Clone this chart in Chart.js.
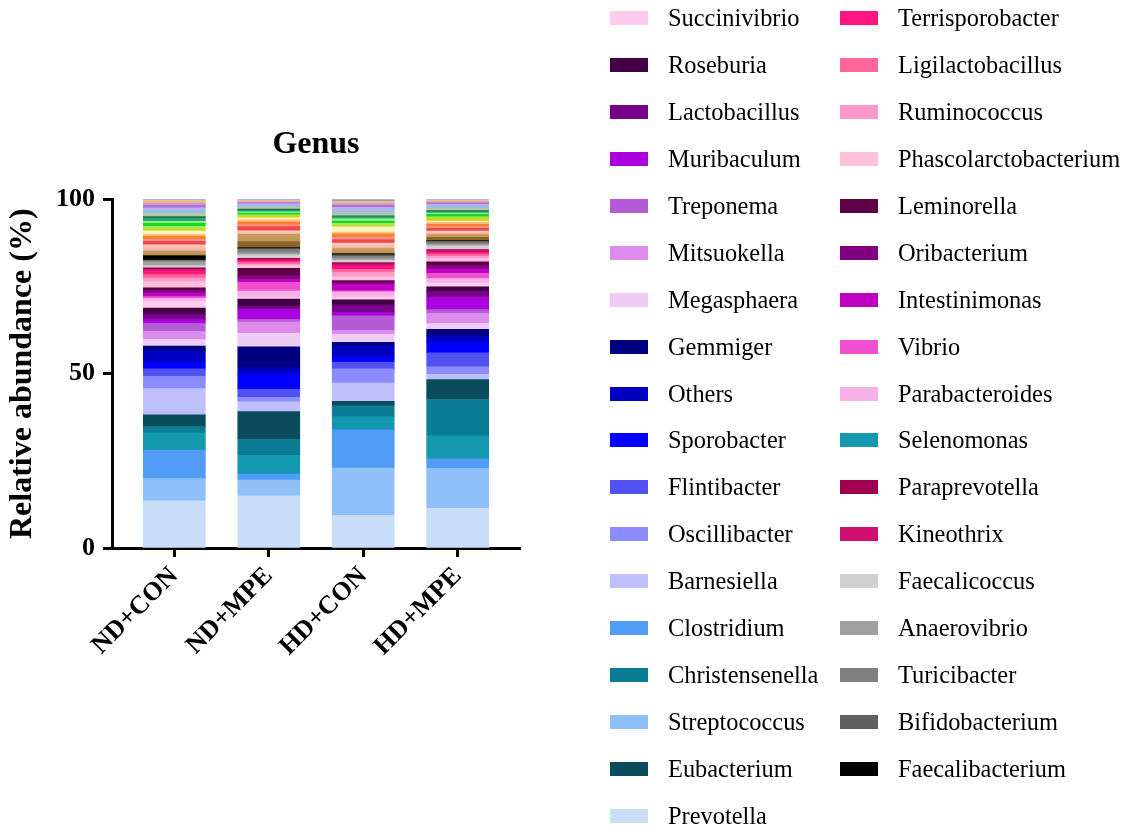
<!DOCTYPE html>
<html>
<head>
<meta charset="utf-8">
<script src="https://cdn.jsdelivr.net/npm/chart.js@4.4.1/dist/chart.umd.min.js"></script>
<style>
  html, body { margin: 0; padding: 0; background: #fff; }
  #wrap { position: relative; width: 1134px; height: 827px; overflow: hidden; }
  #plot { position: absolute; left: 0; top: 0; }
  #legend { position: absolute; left: 0; top: 0; width: 1134px; height: 827px; pointer-events: none; }
  .item { position: absolute; height: 28px; display: flex; align-items: center;
          font-family: "Liberation Serif", "Times New Roman", serif; font-size: 24.4px; color: #000; white-space: nowrap; }
  .swatch { width: 38px; height: 14px; margin-right: 20px; flex: none; }
</style>
</head>
<body>
<div id="wrap">
  <canvas id="plot" width="560" height="827"></canvas>
  <div id="legend"></div>
</div>
<script>
// Sample groups on the x axis
const groups = ['ND+CON', 'ND+MPE', 'HD+CON', 'HD+MPE'];

// Genera in stacking order, bottom to top (the last 22 are minor genera without a legend entry)
const genera = [
  'Prevotella', 'Streptococcus', 'Clostridium', 'Selenomonas', 'Christensenella', 'Eubacterium',
  'Barnesiella', 'Oscillibacter', 'Flintibacter', 'Sporobacter', 'Others', 'Gemmiger',
  'Megasphaera', 'Mitsuokella', 'Treponema', 'Muribaculum', 'Lactobacillus', 'Roseburia',
  'Succinivibrio', 'Parabacteroides', 'Vibrio', 'Intestinimonas', 'Oribacterium', 'Leminorella',
  'Phascolarctobacterium', 'Ruminococcus', 'Ligilactobacillus', 'Terrisporobacter', 'Kineothrix', 'Paraprevotella',
  'Faecalicoccus', 'Anaerovibrio', 'Turicibacter', 'Bifidobacterium', 'Faecalibacterium',
  'g36', 'g37', 'g38', 'g39', 'g40', 'g41', 'g42', 'g43', 'g44', 'g45', 'g46',
  'g47', 'g48', 'g49', 'g50', 'g51', 'g52', 'g53', 'g54', 'g55', 'g56', 'g57'
];

const colors = [
  '#C8DEF8', '#90C0F8', '#509CF6', '#1498B0', '#0A7C94', '#0A4C5C',
  '#C0C0FF', '#8C8CFF', '#5252F2', '#0000FF', '#0000C0', '#000080',
  '#EECCF6', '#DD8CEE', '#B45CD6', '#AA00DD', '#770088', '#440044',
  '#FFCCEE', '#F8B0E8', '#F050D0', '#C000C0', '#800080', '#600048',
  '#FFC0DC', '#FF99CC', '#FF6699', '#FF1480', '#D01070', '#A00050',
  '#D0D0D0', '#A0A0A0', '#808080', '#606060', '#000000',
  '#8C6428', '#C49A5C', '#F8B4A4', '#FFCCC4', '#F04848', '#FF9090', '#F4822E', '#FFC48C',
  '#FAF6C0', '#D8D010', '#98EC5C', '#22D422', '#88FF88', '#2EA478', '#1E6E50', '#B4C8A8',
  '#90C0E8', '#C4ACF0', '#A474E0', '#E494C4', '#E8C484', '#5070C8'
];

// Relative abundance (%) per group, same order as genera
const ndCon = [
  13.5, 6.4, 8.2, 4.9, 1.8, 3.4, 7.5, 3.5, 2.2, 1.9, 3.3, 1.3,
  1.9, 2.3, 2.3, 1.2, 1.5, 1.7, 2.0, 0.8, 0.5, 1.0, 0.8, 0.7,
  1.8, 1.0, 1.0, 1.1, 0.4, 0.5, 0.6, 1.1, 0.3, 0.2, 1.2,
  0.2, 1.2, 0.9, 0.9, 1.0, 0.5, 1.0, 0.5, 0.9, 0.5, 0.9, 0.9, 0.5, 0.9, 0.5, 0.9,
  0.9, 0.7, 0.7, 0.7, 0.7, 0.3
];
const ndMpe = [
  15.0, 4.5, 1.7, 5.4, 4.6, 7.9, 2.8, 1.3, 2.3, 4.3, 1.9, 6.0,
  3.9, 3.2, 0.8, 2.9, 0.8, 2.1, 0.5, 1.8, 2.5, 0.9, 1.0, 2.1,
  0.8, 0.4, 0.6, 0.4, 0.4, 0.3, 1.0, 0.6, 0.9, 0.3, 0.3,
  1.7, 2.1, 0.4, 0.6, 1.2, 0.5, 0.9, 0.6, 0.5, 0.5, 0.4, 0.5, 0.3, 0.4, 0.4, 0.6,
  0.5, 0.4, 0.3, 0.4, 0.3, 0.3
];
const hdCon = [
  9.4, 13.5, 11.0, 3.8, 3.1, 1.3, 5.2, 4.1, 1.9, 1.5, 3.2, 1.0,
  2.3, 1.1, 4.2, 1.0, 2.1, 1.5, 0.8, 1.5, 0.3, 1.9, 0.6, 0.4,
  1.1, 1.3, 0.8, 1.0, 0.6, 0.4, 0.6, 0.6, 0.6, 0.4, 0.3,
  0.2, 1.3, 0.8, 0.8, 1.0, 0.6, 1.0, 0.5, 1.5, 0.4, 0.6, 0.7, 0.6, 0.6, 0.3, 0.9,
  0.8, 0.7, 0.6, 0.6, 0.7, 0.4
];
const hdMpe = [
  11.4, 11.4, 2.8, 6.6, 10.4, 5.7, 1.5, 2.2, 4.0, 2.9, 1.9, 1.9,
  1.7, 2.9, 1.1, 3.5, 1.7, 1.3, 1.1, 1.3, 1.5, 1.3, 1.0, 1.0,
  1.0, 0.6, 0.6, 0.6, 0.4, 0.3, 1.1, 0.4, 0.5, 0.4, 0.2,
  0.9, 0.8, 0.5, 0.5, 0.8, 0.5, 0.7, 0.5, 0.4, 0.7, 0.5, 0.7, 0.4, 0.4, 0.3, 0.7,
  0.6, 0.5, 0.4, 0.4, 0.4, 0.2
];

// Legend columns, top to bottom
const legendLeft = [
  'Succinivibrio', 'Roseburia', 'Lactobacillus', 'Muribaculum', 'Treponema', 'Mitsuokella',
  'Megasphaera', 'Gemmiger', 'Others', 'Sporobacter', 'Flintibacter', 'Oscillibacter',
  'Barnesiella', 'Clostridium', 'Christensenella', 'Streptococcus', 'Eubacterium', 'Prevotella'
];
const legendRight = [
  'Terrisporobacter', 'Ligilactobacillus', 'Ruminococcus', 'Phascolarctobacterium', 'Leminorella',
  'Oribacterium', 'Intestinimonas', 'Vibrio', 'Parabacteroides', 'Selenomonas', 'Paraprevotella',
  'Kineothrix', 'Faecalicoccus', 'Anaerovibrio', 'Turicibacter', 'Bifidobacterium', 'Faecalibacterium'
];

const groupValues = [ndCon, ndMpe, hdCon, hdMpe];
const serif = '"Liberation Serif", "Times New Roman", serif';

const datasets = genera.map((name, i) => ({
  label: name,
  data: groupValues.map((vals, g) => ({ x: g, y: vals[i] })),
  backgroundColor: colors[i],
  borderWidth: 0,
  barThickness: 62
}));

new Chart(document.getElementById('plot'), {
  type: 'bar',
  data: { datasets },
  options: {
    responsive: false,
    animation: false,
    devicePixelRatio: 1,
    layout: { padding: { top: 126, right: 40, left: 0, bottom: 0 } },
    plugins: {
      legend: { display: false },
      tooltip: { enabled: false },
      title: {
        display: true,
        text: 'Genus',
        fullSize: false,
        color: '#000',
        font: { family: serif, size: 32, weight: 'bold' },
        padding: { top: 0, bottom: 35 }
      }
    },
    scales: {
      x: {
        type: 'linear',
        stacked: true,
        offset: false,
        min: -0.66,
        max: 3.66,
        afterBuildTicks: s => { s.ticks = groups.map((_, i) => ({ value: i })); },
        afterFit: s => { s.height = 279; },
        ticks: {
          callback: v => groups[v],
          minRotation: 45,
          maxRotation: 45,
          color: '#000',
          padding: 4,
          font: { family: serif, size: 26, weight: 'bold' }
        },
        grid: { offset: false, drawOnChartArea: false, tickLength: 9, tickWidth: 3, color: '#000' },
        border: { color: '#000', width: 3 }
      },
      y: {
        stacked: true,
        min: 0,
        max: 100,
        afterFit: s => { s.width = 112; },
        ticks: {
          stepSize: 50,
          color: '#000',
          padding: 8,
          font: { family: serif, size: 26, weight: 'bold' }
        },
        grid: { drawOnChartArea: false, tickLength: 9, tickWidth: 3, color: '#000' },
        border: { color: '#000', width: 3 },
        title: {
          display: true,
          text: 'Relative abundance (%)',
          color: '#000',
          padding: { top: 4, bottom: 0 },
          font: { family: serif, size: 32, weight: 'bold' }
        }
      }
    }
  }
});

// Legend: two columns of colour swatches with genus names
const legend = document.getElementById('legend');
function addColumn(names, left) {
  names.forEach((name, r) => {
    const item = document.createElement('div');
    item.className = 'item';
    item.style.left = left + 'px';
    item.style.top = (4 + r * 46.94) + 'px';
    const sw = document.createElement('span');
    sw.className = 'swatch';
    sw.style.background = colors[genera.indexOf(name)];
    const tx = document.createElement('span');
    tx.textContent = name;
    item.appendChild(sw);
    item.appendChild(tx);
    legend.appendChild(item);
  });
}
addColumn(legendLeft, 610);
addColumn(legendRight, 840);
</script>
</body>
</html>
